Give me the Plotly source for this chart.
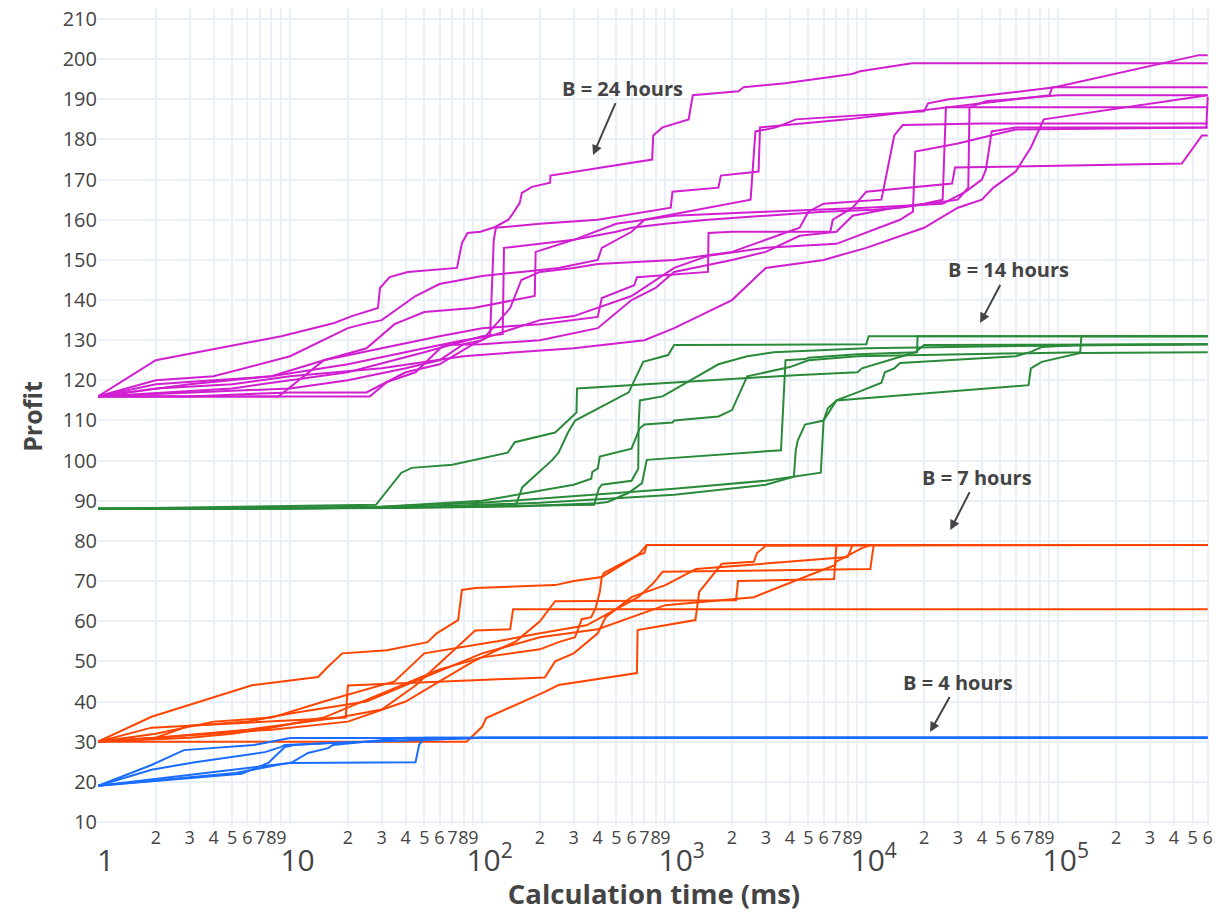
import math
import plotly.graph_objects as go

# ---------------- data: calculation time (ms) and profit ----------------
# B = 24 hours
b24_times = [
    [1, 2, 9, 17, 21, 28.7, 29.4, 33, 41, 74, 78.5, 84, 98, 117, 137, 143, 157, 161, 182, 226, 227, 768, 778, 870, 1190, 1250, 2160, 2300, 3780, 8450, 9300, 17300, 600000],
    [1, 2, 4, 10, 20, 24, 30, 45, 60, 100, 160, 250, 400, 420, 600, 700, 2500, 2650, 3400, 4300, 20000, 21000, 27000, 43000, 96000, 540000, 600000],
    [1, 3, 8, 20, 50, 80, 110, 115, 118, 200, 400, 700, 960, 980, 1700, 1750, 2750, 2800, 8000, 40000, 90000, 93000, 600000],
    [1, 5, 20, 50, 100, 128, 130, 300, 500, 600, 900, 1500, 3000, 6000, 11000, 15000, 30000, 34000, 34500, 42000, 100000, 600000],
    [1, 10, 26, 32, 45, 63, 100, 200, 400, 600, 800, 1000, 2000, 3000, 4500, 7000, 8500, 14000, 20000, 25000, 26000, 600000],
    [1, 3, 10, 20, 40, 60, 80, 100, 140, 160, 200, 300, 400, 1000, 2000, 4500, 5000, 6000, 12000, 14000, 15500, 40000, 600000],
    [1, 2, 4, 8, 15, 25, 35, 50, 90, 150, 188, 190, 300, 500, 1000, 3000, 10000, 25000, 33000, 40000, 42000, 45000, 60000, 600000],
    [1, 8.7, 15, 30, 60, 100, 200, 400, 420, 620, 640, 1500, 1510, 2000, 4000, 6500, 6700, 8500, 10000, 28000, 29000, 440000, 560000, 600000],
    [1, 2, 5, 10, 30, 80, 150, 300, 700, 1000, 2000, 3000, 6000, 10000, 20000, 30000, 40000, 46000, 60000, 72000, 84000, 600000],
    [1, 3, 10, 25, 40, 60, 90, 110, 200, 300, 600, 1000, 1500, 3000, 7000, 15000, 17500, 18000, 30000, 60000, 590000, 600000],
]
b24_profit = [
    [116, 125, 131, 134.3, 136, 138, 143, 145.7, 147, 148, 154.2, 156.7, 157, 158.2, 160, 161.2, 164.2, 166.7, 168.2, 169.2, 171, 175, 181, 183, 185, 191, 192, 193, 194, 196.3, 197, 199, 199],
    [116, 120, 121, 126, 133, 134, 135, 141, 144, 146, 147, 148, 150, 153, 157, 160, 165, 182, 183, 185, 187, 189, 190, 191, 193, 201, 201],
    [116, 119, 121, 124, 128, 130, 131, 155, 158, 159, 160, 162, 163, 167, 168, 171, 172, 183, 185, 189, 191, 193, 193],
    [116, 118, 122, 127, 131, 131.5, 153, 155, 157, 158, 159, 160, 161, 162, 162.5, 163, 165, 168, 188, 189.5, 191, 191],
    [116, 116, 116, 119.6, 122, 128.8, 129, 130, 133, 140, 143, 147, 150, 152, 156, 157, 161, 163, 164, 165, 188, 188],
    [116, 117, 118, 120, 123, 125, 129, 130, 138, 145, 147, 148, 149, 150, 152, 158, 162, 164, 165, 181, 183.6, 184, 184],
    [116, 119, 120, 121, 125, 128, 134, 137, 138, 140, 141, 152, 155, 159, 161, 162, 163, 164, 167, 170, 172.5, 182, 183, 183],
    [116, 116, 125, 128, 131, 133, 134, 135.8, 140.5, 143.7, 145.7, 147, 156.7, 157, 157, 157, 160, 163, 167, 169, 173, 174, 181, 181],
    [116, 118, 119, 121, 123, 126, 127, 128, 130, 133, 140, 148, 150, 153, 158, 163, 165, 168, 172, 178, 185, 191],
    [116, 116, 117, 117, 122, 124, 129, 131, 135, 136, 141, 148, 151, 153, 154, 160, 162, 177, 179, 182.5, 183, 190.6],
]

# B = 14 hours
b14_times = [
    [1, 28, 38, 43, 70, 136, 148, 240, 280, 310, 312, 4260, 9000, 9500, 18000, 20000, 600000],
    [1, 100, 150, 162, 230, 250, 280, 305, 580, 690, 930, 1000, 10000, 10300, 600000],
    [1, 40, 150, 400, 450, 580, 680, 720, 3600, 3700, 3800, 4800, 5000, 9000, 18400, 18500, 600000],
    [1, 10, 50, 200, 1000, 3000, 4200, 4300, 4400, 4800, 6000, 7000, 9000, 12000, 12500, 14000, 15000, 60000, 72000, 82000, 130000, 600000],
    [1, 20, 100, 400, 1000, 3000, 5800, 6000, 6300, 7000, 70000, 72000, 82000, 130000, 600000],
    [1, 30, 100, 300, 370, 375, 400, 410, 600, 660, 700, 980, 1000, 1700, 2000, 2400, 4000, 5000, 9000, 130000, 132000, 600000],
    [1, 5, 30, 150, 383, 405, 420, 600, 650, 653, 663, 870, 1700, 2400, 3300, 10000, 50000, 600000],
]
b14_profit = [
    [88, 89, 97, 98.2, 99, 102, 104.6, 107, 110, 112, 118, 121.3, 122, 123, 127, 128.8, 129],
    [88, 88.5, 89, 93.4, 100, 102, 107, 110, 117, 124.6, 126.3, 128.8, 129, 131, 131],
    [88, 88.2, 88.6, 89.4, 89.7, 92, 94.4, 100.2, 102.6, 114, 125, 125.3, 125.6, 126.5, 127, 131, 131],
    [88, 88, 88.5, 89.5, 91.5, 94, 96, 102.7, 105, 109, 110, 115, 117, 119.4, 122, 123, 124.3, 126, 127.1, 128.3, 128.8, 129],
    [88, 88.2, 89.5, 91.5, 93, 95, 97, 110, 113, 115, 118.8, 123, 124.6, 126.8, 127],
    [88, 88.5, 90, 94, 95.5, 97.2, 98, 101, 103, 108, 109, 109.5, 110, 111, 112.6, 121, 123.3, 125, 126, 127, 131, 131],
    [88, 88, 88.3, 88.8, 89, 93, 94, 95, 98, 109, 115, 116, 124, 126, 127, 128, 128.5, 129],
]

# B = 7 hours
b7_times = [
    [1, 1.9, 6.4, 14, 15.7, 18.7, 32, 52, 58, 75, 78.5, 92, 240, 300, 420, 430, 650, 720, 600000],
    [1, 2, 6, 12, 18, 30, 45, 92, 140, 145, 600000],
    [1, 1.9, 19.5, 20, 212, 240, 300, 400, 440, 600, 900, 1200, 1300, 8000, 8500, 600000],
    [1, 83, 100, 105, 212, 250, 640, 645, 1290, 1310, 1350, 1770, 2600, 2700, 3000, 600000],
    [1, 3, 5, 8, 15, 30, 60, 100, 200, 250, 305, 330, 370, 390, 410, 420, 650, 700, 720, 600000],
    [1, 3, 8, 20, 40, 60, 90, 150, 200, 240, 2100, 2150, 6800, 7000, 600000],
    [1, 2, 4, 8, 15, 35, 50, 120, 200, 350, 650, 780, 870, 10500, 10900, 11000, 600000],
    [1, 2, 3, 6, 10, 25, 50, 100, 200, 400, 900, 2600, 6900, 6950, 9500, 10500, 600000],
]
b7_profit = [
    [30, 36.2, 44.1, 46.1, 48.6, 52, 52.8, 54.8, 57, 60.3, 67.8, 68.3, 69, 70, 71, 72, 76.5, 79, 79],
    [30, 31, 33, 35, 36, 38, 44, 57.7, 58, 63, 63],
    [30, 33.5, 36, 44, 46, 50, 52, 57, 61, 66, 69, 72, 73, 76, 79, 79],
    [30, 30, 33.7, 35.9, 42.4, 44.1, 47.1, 57.8, 60.3, 62.8, 67.3, 74.3, 74.8, 77, 78.8, 79],
    [30, 31, 32, 33.5, 36, 42, 48, 51, 53, 54.8, 56, 60.5, 61, 63.3, 67.3, 71, 76.5, 77, 79, 79],
    [30, 31.5, 33, 35, 40, 45, 50, 55, 60, 65, 65.2, 70, 70.5, 79, 79],
    [30, 32, 35, 36, 40, 45, 52, 55, 57, 59, 66, 69.5, 72.3, 73, 78.5, 79, 79],
    [30, 31, 34, 35, 37, 40, 46, 52, 56, 58, 64, 66, 74, 74.8, 78.2, 79, 79],
]

# B = 4 hours
b4_times = [
    [1, 1.9, 2.8, 6.5, 10, 600000],
    [1, 1.9, 3.2, 7.4, 9, 9.4, 16.5, 19, 100, 600000],
    [1, 5.6, 7.7, 9.4, 10.5, 16, 50, 100, 600000],
    [1, 5.2, 10.3, 12.4, 15.8, 16.7, 40, 600000],
    [1, 10, 45, 46, 47, 50, 600000],
]
b4_profit = [
    [19, 24.2, 27.9, 29.2, 30.9, 31],
    [19, 23, 24.9, 27.4, 28.7, 29.2, 29.7, 29.8, 31, 31],
    [19, 22, 24.7, 28.7, 29.2, 29.7, 30.5, 31, 31],
    [19, 22.2, 24.9, 27.2, 28.4, 29.2, 31, 31],
    [19, 24.7, 24.9, 27.2, 29.2, 31, 31],
]

# label, times, profits, colour, arrow tip (time, profit), text offset (px)
groups = [
    ("B = 24 hours", b24_times, b24_profit, "#d11ed1", 378, 176.1, 29, -67),
    ("B = 14 hours", b14_times, b14_profit, "#2a8a3a", 39200, 134.3, 28, -53),
    ("B = 7 hours", b7_times, b7_profit, "#ff4500", 27400, 82.7, 27, -53),
    ("B = 4 hours", b4_times, b4_profit, "#1a6dff", 21500, 32.4, 28, -50),
]

fig = go.Figure()
annotations = []
for label, times, profits, color, tip_t, tip_p, ax, ay in groups:
    for t, p in zip(times, profits):
        fig.add_trace(go.Scatter(x=t, y=p, mode="lines", name=label,
                                 line=dict(color=color, width=2),
                                 showlegend=False, hoverinfo="skip"))
    annotations.append(dict(x=math.log10(tip_t), y=tip_p, xref="x", yref="y",
                            ax=ax, ay=ay,
                            text="<b>%s</b>" % label, showarrow=True,
                            arrowhead=2, arrowsize=1, arrowwidth=2,
                            arrowcolor="#444",
                            font=dict(size=20, color="#444", family="Open Sans")))

fig.update_layout(
    template="plotly_white",
    width=1223, height=912,
    margin=dict(l=98, r=13, t=8, b=87, autoexpand=False),
    font=dict(family="Open Sans", color="#444"),
    annotations=annotations,
    showlegend=False,
)
fig.update_xaxes(type="log", range=[0, 5.79], dtick="D1", exponentformat="power",
                 tickfont=dict(size=24), showgrid=True, gridcolor="#EBF0F8", gridwidth=2,
                 zeroline=False, showline=False, automargin=False,
                 ticklabeloverflow="allow",
                 title=dict(text="<b>Calculation time (ms)</b>", font=dict(size=27.5), standoff=25))
fig.update_yaxes(range=[9.25, 212.74], tick0=10, dtick=10, tickfont=dict(size=20),
                 showgrid=True, gridcolor="#EBF0F8", gridwidth=2, zeroline=False,
                 automargin=False, ticklabeloverflow="allow",
                 title=dict(text="<b>Profit</b>", font=dict(size=25), standoff=12))

fig.write_html("out.html", config={"displayModeBar": False},
               post_script="document.body.style.margin='0px';")
